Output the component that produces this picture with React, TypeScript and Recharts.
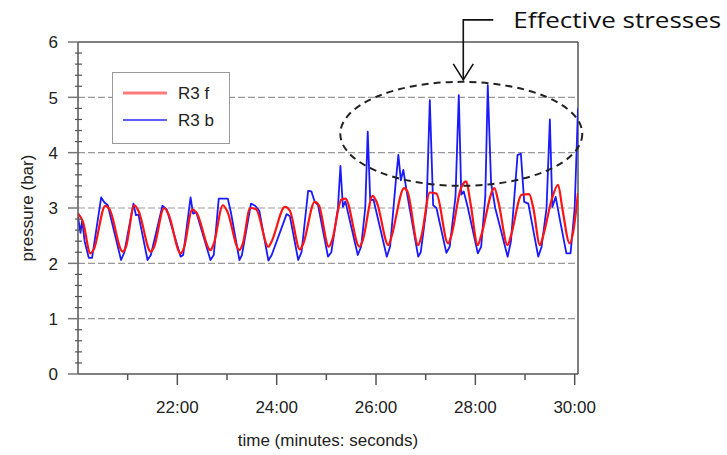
import { LineChart, Line, XAxis, YAxis, ReferenceLine, ReferenceDot, Legend, Label } from 'recharts';

// time in seconds after 20:00, pressure in bar
const redTime = [0, 6, 15, 19, 33, 38, 54, 58, 68, 73, 88, 92, 104, 109, 124, 128, 138, 143, 160, 164, 175, 180, 195, 199, 208, 215, 230, 234, 250, 256, 268, 272, 286, 291, 303, 307, 318, 323, 340, 344, 356, 361, 375, 379, 394, 398, 411, 415, 425, 433, 447, 451, 462, 469, 474, 483, 487, 503, 508, 519, 523, 536, 545, 550, 558, 562, 572, 580, 585, 594, 598, 604];
const redPressure = [2.9, 2.75, 2.18, 2.25, 3.04, 2.98, 2.21, 2.3, 3.05, 2.95, 2.21, 2.3, 3.0, 2.9, 2.18, 2.28, 2.97, 2.92, 2.24, 2.35, 3.05, 2.95, 2.24, 2.35, 3.0, 2.98, 2.3, 2.4, 3.02, 2.95, 2.25, 2.35, 3.11, 3.05, 2.3, 2.42, 3.15, 3.17, 2.3, 2.42, 3.22, 3.1, 2.33, 2.5, 3.36, 3.3, 2.33, 2.5, 3.28, 3.26, 2.36, 2.5, 3.33, 3.48, 3.1, 2.33, 2.5, 3.36, 3.1, 2.33, 2.5, 3.24, 3.25, 3.0, 2.33, 2.5, 3.14, 3.42, 3.0, 2.36, 2.55, 3.27];

const blueTime = [0, 3, 5, 8, 13, 17, 28, 32, 36, 52, 56, 67, 70, 73, 84, 88, 102, 107, 124, 127, 136, 139, 143, 160, 164, 170, 181, 185, 195, 198, 209, 214, 219, 230, 234, 252, 256, 266, 270, 278, 282, 286, 290, 302, 306, 314, 317, 320, 323, 338, 342, 347, 350, 353, 357, 373, 377, 384, 387, 390, 393, 397, 411, 414, 421, 425, 429, 433, 445, 449, 456, 460, 463, 466, 471, 483, 487, 492, 495, 499, 504, 519, 523, 531, 535, 539, 544, 556, 560, 566, 570, 573, 577, 582, 590, 595, 600, 604];
const bluePressure = [2.84, 2.55, 2.78, 2.4, 2.1, 2.1, 3.19, 3.1, 3.05, 2.06, 2.2, 3.08, 2.87, 2.88, 2.06, 2.15, 3.04, 2.98, 2.12, 2.15, 3.19, 2.9, 2.92, 2.06, 2.15, 3.17, 3.17, 2.9, 2.06, 2.15, 3.08, 3.04, 2.95, 2.05, 2.15, 2.89, 2.85, 2.06, 2.2, 3.31, 3.3, 3.11, 3.05, 2.12, 2.2, 3.0, 3.76, 3.02, 3.12, 2.15, 2.3, 3.0, 4.38, 3.14, 3.15, 2.12, 2.3, 3.5, 3.96, 3.5, 3.69, 3.3, 2.12, 2.2, 3.0, 4.95, 3.05, 3.0, 2.19, 2.3, 3.2, 5.04, 3.24, 3.3, 3.0, 2.18, 2.3, 3.2, 5.22, 3.45, 3.0, 2.12, 2.4, 3.96, 3.98, 3.11, 3.08, 2.12, 2.3, 3.0, 4.6, 3.02, 3.2, 2.8, 2.18, 2.18, 3.0, 4.8];

const seriesNames = ['R3 f', 'R3 b'];
const seriesColors = ['#ff1414', '#1a1aff'];
const legendColors = ['#ff7a7a', '#2a2aff'];

const xTicks = [60, 120, 180, 240, 300, 360, 420, 480, 540, 600];
const xMajor = [120, 240, 360, 480, 600];
const yTicks = [0, 0.2, 0.4, 0.6, 0.8, 1, 1.2, 1.4, 1.6, 1.8, 2, 2.2, 2.4, 2.6, 2.8, 3, 3.2, 3.4, 3.6, 3.8, 4, 4.2, 4.4, 4.6, 4.8, 5, 5.2, 5.4, 5.6, 5.8, 6];
const yMajor = [0, 1, 2, 3, 4, 5, 6];
const gridValues = [1, 2, 3, 4, 5];

const redData = redTime.map((t, i) => ({ t, v: redPressure[i] }));
const blueData = blueTime.map((t, i) => ({ t, v: bluePressure[i] }));

const FONT = '"Liberation Sans", Arial, sans-serif';
const fmtTime = (s: number) => `${20 + Math.floor(s / 60)}:00`;

function XTick({ x, y, payload }: any) {
  const major = xMajor.includes(payload.value);
  return (
    <g>
      <line x1={x} x2={x} y1={y} y2={y + (major ? 11 : 6)} stroke="#555" strokeWidth={1.5} />
      {major && (
        <text x={x} y={y + 39} textAnchor="middle" fontSize={17} fontFamily={FONT} fill="#222">
          {fmtTime(payload.value)}
        </text>
      )}
    </g>
  );
}

function YTick({ x, y, payload }: any) {
  const major = yMajor.some((m) => Math.abs(m - payload.value) < 1e-6);
  if (!major) {
    return <line x1={x - 3} x2={x + 4} y1={y} y2={y} stroke="#555" strokeWidth={1.2} />;
  }
  return (
    <g>
      <line x1={x - 10} x2={x} y1={y} y2={y} stroke="#777" strokeWidth={1.5} />
      <text x={x - 20} y={y + 6.3} textAnchor="end" fontSize={17} fontFamily={FONT} fill="#222">
        {payload.value}
      </text>
    </g>
  );
}

function Annotation({ cx, cy }: any) {
  const top = cy - 54;
  return (
    <g>
      <ellipse cx={cx} cy={cy} rx={121} ry={52} fill="none" stroke="#222" strokeWidth={2} strokeDasharray="7 5" />
      <polyline points={`${cx + 32},${cy - 114} ${cx + 2},${cy - 114} ${cx + 2},${top}`} fill="none" stroke="#111" strokeWidth={1.6} />
      <polyline points={`${cx - 8},${top - 16} ${cx + 2},${top} ${cx + 12},${top - 16}`} fill="none" stroke="#111" strokeWidth={1.6} />
      <text x={cx + 52} y={cy - 106} fontSize={22} fontFamily="'Open Sans', Lato, sans-serif" fill="#111" textLength={208} lengthAdjust="spacingAndGlyphs">
        Effective stresses
      </text>
    </g>
  );
}

function LegendBox() {
  return (
    <div style={{ width: 118, height: 72, boxSizing: 'border-box', border: '1.5px solid #999', background: '#fff' }}>
      <svg width={116} height={69}>
        {seriesNames.map((name, i) => (
          <g key={name}>
            <line x1={10} x2={54} y1={20 + i * 27} y2={20 + i * 27} stroke={legendColors[i]} strokeWidth={i === 0 ? 3 : 1.6} />
            <text x={65} y={25.5 + i * 27} fontSize={17} fontFamily={FONT} fill="#222">{name}</text>
          </g>
        ))}
      </svg>
    </div>
  );
}

export default function App() {
  return (
    <div style={{ position: 'absolute', left: 0, top: 0, background: '#fff' }}>
      <LineChart width={727} height={455} margin={{ top: 42, right: 149, bottom: 0, left: 0 }}>
        <XAxis
          dataKey="t"
          type="number"
          domain={[0, 604]}
          allowDataOverflow
          ticks={xTicks}
          interval={0}
          height={81}
          tickSize={0}
          tickMargin={0}
          tickLine={false}
          tick={<XTick />}
          axisLine={{ stroke: '#555', strokeWidth: 1.5 }}
        >
          <Label value="time (minutes: seconds)" position="insideBottom" offset={9} fontSize={17} fontFamily={FONT} fill="#222" />
        </XAxis>
        <YAxis
          type="number"
          domain={[0, 6]}
          ticks={yTicks}
          interval={0}
          width={78}
          tickSize={0}
          tickMargin={0}
          tickLine={false}
          tick={<YTick />}
          axisLine={{ stroke: '#555', strokeWidth: 1.5 }}
        >
          <Label
            content={({ viewBox }: any) => {
              const cx = viewBox.x + 27;
              const cy = viewBox.y + viewBox.height / 2;
              return (
                <text x={cx} y={cy} transform={`rotate(-90 ${cx} ${cy})`} textAnchor="middle" dominantBaseline="central" fontSize={17} fontFamily={FONT} fill="#222">
                  pressure (bar)
                </text>
              );
            }}
          />
        </YAxis>
        {gridValues.map((g) => (
          <ReferenceLine key={g} y={g} stroke="#999" strokeWidth={1.2} strokeDasharray="7 3" />
        ))}
        <ReferenceLine y={6} stroke="#555" strokeWidth={1.5} />
        <ReferenceLine x={604} stroke="#555" strokeWidth={1.5} />
        <Line data={blueData} dataKey="v" name={seriesNames[1]} type="linear" stroke={seriesColors[1]} strokeWidth={1.8} strokeLinejoin="round" dot={false} isAnimationActive={false} />
        <Line data={redData} dataKey="v" name={seriesNames[0]} type="monotone" stroke={seriesColors[0]} strokeWidth={2.2} dot={false} isAnimationActive={false} />
        <Legend layout="vertical" align="center" verticalAlign="middle" content={<LegendBox />} wrapperStyle={{ left: 112, top: 72, width: 118, height: 72 }} />
        <ReferenceDot x={463} y={4.34} r={0} ifOverflow="visible" shape={<Annotation />} />
      </LineChart>
    </div>
  );
}
